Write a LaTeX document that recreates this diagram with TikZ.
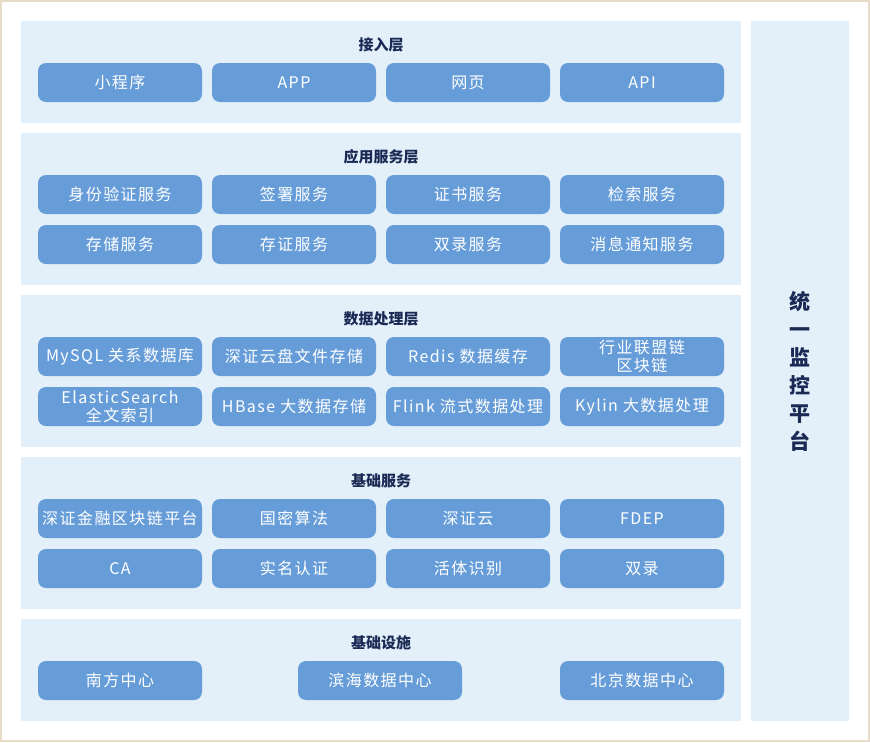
\documentclass[tikz,border=0pt]{standalone}
\usepackage{fontspec}
\setmainfont{Noto Sans CJK SC}
\newfontfamily\btnfont[LetterSpace=9]{Noto Sans CJK SC}
\usepackage{tikz}
\definecolor{panelblue}{HTML}{E3F0FA}
\definecolor{btnblue}{HTML}{669DD9}
\definecolor{ttlnavy}{HTML}{1B2A55}
\definecolor{edgebeige}{HTML}{E6DCC8}
\pgfmathsetmacro{\colA}{120}
\pgfmathsetmacro{\colB}{294}
\pgfmathsetmacro{\colC}{468}
\pgfmathsetmacro{\colD}{642}
\tikzset{
	layer/.style={fill=panelblue},
	svc/.style={fill=btnblue, rounded corners=8pt, minimum width=164pt, minimum height=39pt, inner sep=0pt, text=white, align=center, font=\btnfont\fontsize{16}{18}\selectfont},
	ttl/.style={text=ttlnavy, font=\bfseries\fontsize{15}{18}\selectfont},
}

\begin{document}
\begin{tikzpicture}[x=1pt, y=-1pt]
		\useasboundingbox (0, 0) rectangle (870, 742);
		\fill[white] (0, 0) rectangle (870, 742);
		\draw[edgebeige, line width=1.6pt] (0.8, 0.8) rectangle (869.2, 741.2);
		% layers
		\fill[layer] (21, 21) rectangle (741, 123);
		\fill[layer] (21, 133) rectangle (741, 285);
		\fill[layer] (21, 295) rectangle (741, 447);
		\fill[layer] (21, 457) rectangle (741, 609);
		\fill[layer] (21, 619) rectangle (741, 721);
		\fill[layer] (751, 21) rectangle (849, 721);
		% access
		\node[ttl] (tAccess) at (381, 45) {接入层};
		\node[svc] (mini) at (\colA, 82.5) {小程序};
		\node[svc] (app) at (\colB, 82.5) {APP};
		\node[svc] (web) at (\colC, 82.5) {网页};
		\node[svc] (api) at (\colD, 82.5) {API};
		% application services
		\node[ttl] (tApp) at (381, 157) {应用服务层};
		\node[svc] (ident) at (\colA, 194.5) {身份验证服务};
		\node[svc] (sign) at (\colB, 194.5) {签署服务};
		\node[svc] (cert) at (\colC, 194.5) {证书服务};
		\node[svc] (search) at (\colD, 194.5) {检索服务};
		\node[svc] (store) at (\colA, 244.5) {存储服务};
		\node[svc] (proof) at (\colB, 244.5) {存证服务};
		\node[svc] (record) at (\colC, 244.5) {双录服务};
		\node[svc] (notify) at (\colD, 244.5) {消息通知服务};
		% data processing
		\node[ttl] (tData) at (381, 319) {数据处理层};
		\node[svc] (mysql) at (\colA, 356.5) {MySQL 关系数据库};
		\node[svc] (disk) at (\colB, 356.5) {深证云盘文件存储};
		\node[svc] (redis) at (\colC, 356.5) {Redis 数据缓存};
		\node[svc] (chain) at (\colD, 356.5) {行业联盟链\\区块链};
		\node[svc] (elastic) at (\colA, 406.5) {ElasticSearch\\全文索引};
		\node[svc] (hbase) at (\colB, 406.5) {HBase 大数据存储};
		\node[svc] (flink) at (\colC, 406.5) {Flink 流式数据处理};
		\node[svc] (kylin) at (\colD, 406.5) {Kylin 大数据处理};
		% base services
		\node[ttl] (tBase) at (381, 481) {基础服务};
		\node[svc] (fin) at (\colA, 518.5) {深证金融区块链平台};
		\node[svc] (sm) at (\colB, 518.5) {国密算法};
		\node[svc] (cloud) at (\colC, 518.5) {深证云};
		\node[svc] (fdep) at (\colD, 518.5) {FDEP};
		\node[svc] (ca) at (\colA, 568.5) {CA};
		\node[svc] (real) at (\colB, 568.5) {实名认证};
		\node[svc] (live) at (\colC, 568.5) {活体识别};
		\node[svc] (dual) at (\colD, 568.5) {双录};
		% infrastructure
		\node[ttl] (tInfra) at (381, 643) {基础设施};
		\node[svc] (south) at (\colA, 680.5) {南方中心};
		\node[svc] (binhai) at (380, 680.5) {滨海数据中心};
		\node[svc] (beijing) at (\colD, 680.5) {北京数据中心};
		% monitor
		\node[text=ttlnavy, align=center, font=\bfseries\fontsize{21}{28}\selectfont] (monitor) at (800, 371) {统\\一\\监\\控\\平\\台};
	\end{tikzpicture}
\end{document}
